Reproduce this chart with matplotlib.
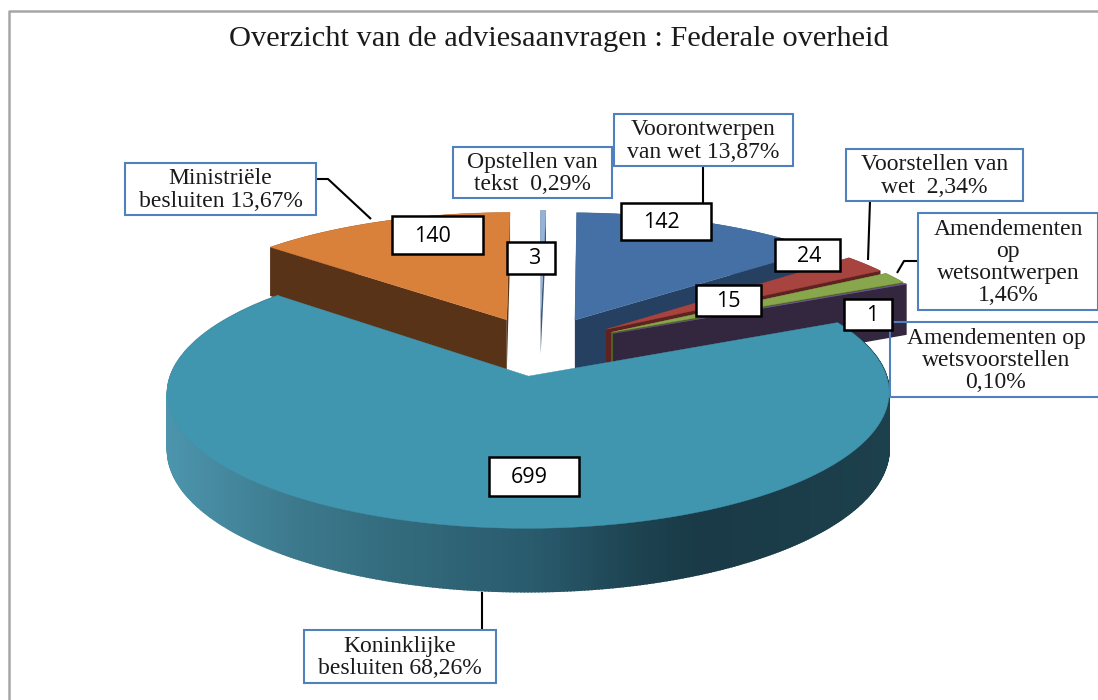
import numpy as np
import matplotlib
matplotlib.use('Agg')
import matplotlib.pyplot as plt
from matplotlib.patches import Polygon, Rectangle

# data, clockwise from the first slice
categories = ['Koninklijke\nbesluiten 68,26%', 'Ministriële\nbesluiten 13,67%', 'Opstellen van\ntekst  0,29%',
              'Voorontwerpen\nvan wet 13,87%', 'Voorstellen van\nwet  2,34%',
              'Amendementen\nop\nwetsontwerpen\n1,46%', 'Amendementen op\nwetsvoorstellen\n0,10%']
counts = [699, 140, 3, 142, 24, 15, 1]
title = 'Overzicht van de adviesaanvragen : Federale overheid'

top_colors = ['#4095AF', '#D9803B', '#95B3D7', '#4470A5', '#A84440', '#88A64C', '#71588F']
wall_colors = ['#17363F', '#593317', '#3F5876', '#254061', '#5E2320', '#4F6228', '#33263F']

# box of each label and of each count, in pixels: x0, y0, x1, y1
label_boxes = [(304, 630, 496, 683), (125, 163, 316, 215), (453, 147, 612, 198), (614, 114, 793, 166),
               (846, 149, 1023, 201), (918, 213, 1098, 310), (890, 322, 1102, 397)]
count_boxes = [(489, 457, 579, 496), (392, 216, 483, 254), (507, 242, 555, 274), (621, 203, 711, 240),
               (775, 239, 840, 271), (696, 285, 761, 316), (844, 299, 892, 330)]
count_text_dx = [-5, -5, 3, -5, 2, 0, 4]
leaders = [[(482, 592), (482, 630)], [(316, 179), (328, 179), (371, 219)], [(703, 166), (703, 203)],
           [(870, 201), (868, 260)], [(918, 261), (904, 261), (897, 273)]]

# projection of the tilted pie
CX, CY = 540, 346
A, B, K = 348, 126, 0.12
DEPTH = 54
EXPLODE = 0.235
START = 25.0


def project(u, v, down=0.0):
    s = 1 + K * v
    return CX + A * u / s, CY - B * v / s + down / s


def rim_shade(x):
    stops_x = [167, 300, 420, 540, 640, 700, 890]
    stops_r = [0x4C, 0x3C, 0x31, 0x28, 0x1D, 0x19, 0x1C]
    stops_g = [0x95, 0x78, 0x68, 0x5A, 0x42, 0x3A, 0x40]
    stops_b = [0xAD, 0x8C, 0x7A, 0x6C, 0x50, 0x46, 0x4C]
    return (np.interp(x, stops_x, stops_r) / 255, np.interp(x, stops_x, stops_g) / 255,
            np.interp(x, stops_x, stops_b) / 255)


fig = plt.figure(figsize=(10.98, 7.0), dpi=100)
ax = fig.add_axes([0, 0, 1, 1])
ax.set_xlim(0, 1098)
ax.set_ylim(700, 0)
ax.axis('off')

# chart frame
ax.plot([8.5, 8.5, 1098], [700, 10.5, 10.5], color='#A6A6A6', lw=1.8, zorder=1)

# angles run clockwise from START
shares = np.array(counts) / sum(counts) * 360.0
ends = START - np.cumsum(shares)
starts = ends + shares
slices = []
for i in range(len(counts)):
    mid = np.radians((starts[i] + ends[i]) / 2)
    slices.append((i, np.radians(ends[i]), np.radians(starts[i]), EXPLODE * np.cos(mid), EXPLODE * np.sin(mid)))

# back to front: blue, thin one, orange, red, green, purple, then the big slice
draw_order = [3, 2, 1, 4, 5, 6, 0]
for i in draw_order:
    _, a0, a1, ou, ov = slices[i]
    t = np.linspace(a0, a1, max(int(np.degrees(a1 - a0) * 2), 3))
    u = ou + np.cos(t)
    v = ov + np.sin(t)
    depth = 38 if i == 2 else DEPTH  # thin slice ends higher up in the picture
    x_top, y_top = project(u, v)
    x_low, y_low = project(u, v, depth)
    x_c, y_c = project(ou, ov)
    x_cl, y_cl = project(ou, ov, depth)

    # outer side
    if i == 0:
        for j in range(len(t) - 1):
            pts = [(x_top[j], y_top[j]), (x_top[j + 1], y_top[j + 1]), (x_low[j + 1], y_low[j + 1]), (x_low[j], y_low[j])]
            c = rim_shade((x_top[j] + x_top[j + 1]) / 2)
            ax.add_patch(Polygon(pts, closed=True, fc=c, ec=c, lw=1.2, zorder=2))
    else:
        pts = list(zip(x_top, y_top)) + list(zip(x_low[::-1], y_low[::-1]))
        ax.add_patch(Polygon(pts, closed=True, fc=wall_colors[i], ec='none', zorder=2))
        # cut sides
        for k in (0, -1):
            q = [(x_c, y_c), (x_top[k], y_top[k]), (x_low[k], y_low[k]), (x_cl, y_cl)]
            ax.add_patch(Polygon(q, closed=True, fc=wall_colors[i], ec='none', zorder=2))

    # top face
    pts = [(x_c, y_c)] + list(zip(x_top, y_top))
    ax.add_patch(Polygon(pts, closed=True, fc=top_colors[i], ec=top_colors[i], lw=0.3, zorder=2))

# leader lines
for line in leaders:
    xs, ys = zip(*line)
    ax.plot(xs, ys, color='black', lw=1.5, solid_capstyle='butt', zorder=3)

# labels
for i, label in enumerate(categories):
    x0, y0, x1, y1 = label_boxes[i]
    filled = i != 6
    ax.add_patch(Rectangle((x0, y0), x1 - x0, y1 - y0, fc='white' if filled else 'none', ec='#4F81BD', lw=1.5,
                           clip_on=True, zorder=4))
    ax.text((x0 + x1) / 2, (y0 + y1) / 2 + 1, label, ha='center', va='center', family='Liberation Serif',
            fontsize=17, color='#1A1A1A', linespacing=1.08, zorder=5)

# counts
for i, n in enumerate(counts):
    x0, y0, x1, y1 = count_boxes[i]
    ax.add_patch(Rectangle((x0, y0), x1 - x0, y1 - y0, fc='white', ec='black', lw=1.8, zorder=6))
    ax.text((x0 + x1) / 2 + count_text_dx[i], (y0 + y1) / 2 + 1, str(n), ha='center', va='center',
            family='Open Sans', fontsize=15.5, color='black', zorder=7)

ax.text(559, 39, title, ha='center', va='center', family='Liberation Serif', fontsize=21.9, color='#1A1A1A')

fig.savefig('out.png', dpi=100)
plt.close()
